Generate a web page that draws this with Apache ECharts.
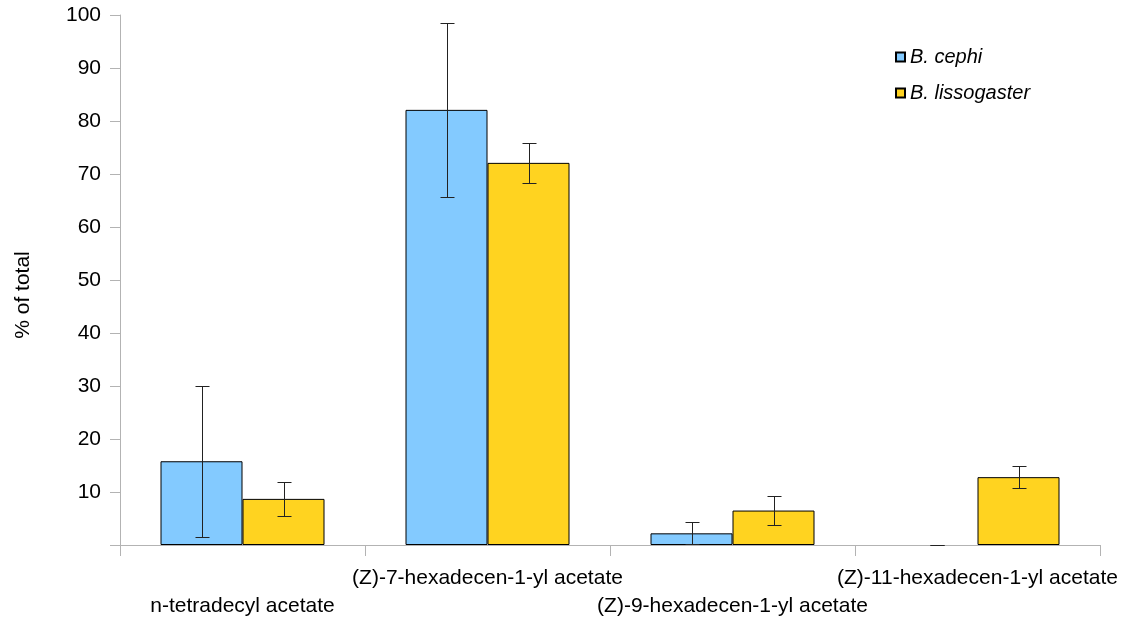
<!DOCTYPE html>
<html>
<head>
<meta charset="utf-8">
<script src="https://cdn.jsdelivr.net/npm/echarts@6/dist/echarts.min.js"></script>
<style>
html,body{margin:0;padding:0;background:#fff;}
#chart{width:1142px;height:622px;}
</style>
</head>
<body>
<div id="chart"></div>
<script>
const categories = ['n-tetradecyl acetate', '(Z)-7-hexadecen-1-yl acetate', '(Z)-9-hexadecen-1-yl acetate', '(Z)-11-hexadecen-1-yl acetate'];
const seriesNames = ['B. cephi', 'B. lissogaster'];
const cephi = [15.8, 82.1, 2.2, 0];
const cephiErr = [14.2, 16.4, 2.1, 0];
const lissogaster = [8.7, 72.1, 6.5, 12.8];
const lissogasterErr = [3.2, 3.8, 2.7, 2.1];

const FONT = "'Liberation Sans', Arial, sans-serif";
const BAR_W = 82;
const colors = ['#83caff', '#ffd320'];

function barData(vals) {
  return vals.map(v => v === 0 ? { value: v, itemStyle: { borderWidth: 0 } } : v);
}
function errData(vals, errs) {
  return vals.map((v, i) => [i, v - errs[i], v + errs[i]]);
}
function errRender(offsetSign) {
  return function (params, api) {
    const i = api.value(0);
    const lo = api.coord([i, api.value(1)]);
    const hi = api.coord([i, api.value(2)]);
    const x = Math.round(lo[0] + offsetSign * BAR_W / 2) + 0.5;
    const yl = Math.round(lo[1]) + 0.5, yh = Math.round(hi[1]) + 0.5;
    const cw = 7;
    const st = { stroke: '#222', lineWidth: 1 };
    return {
      type: 'group',
      children: [
        { type: 'line', shape: { x1: x, y1: yh, x2: x, y2: yl }, style: st },
        { type: 'line', shape: { x1: x - cw, y1: yh, x2: x + cw, y2: yh }, style: st },
        { type: 'line', shape: { x1: x - cw, y1: yl, x2: x + cw, y2: yl }, style: st }
      ]
    };
  };
}

const chart = echarts.init(document.getElementById('chart'));
chart.setOption({
  animation: false,
  textStyle: { fontFamily: FONT, color: '#000' },
  grid: { left: 120, right: 42, top: 15, bottom: 77, containLabel: false, outerBoundsMode: 'none' },
  legend: {
    orient: 'vertical',
    left: 890,
    top: 40,
    itemWidth: 9,
    itemHeight: 9,
    itemGap: 12,
    icon: 'rect',
    data: seriesNames,
    textStyle: { fontFamily: FONT, fontStyle: 'italic', fontSize: 20, color: '#000', lineHeight: 24 }
  },
  xAxis: {
    type: 'category',
    data: categories,
    boundaryGap: true,
    axisLine: { show: true, lineStyle: { color: '#b3b3b3', width: 1 } },
    axisTick: { show: true, length: 11, alignWithLabel: false, interval: 0, lineStyle: { color: '#b3b3b3' } },
    axisLabel: {
      interval: 0,
      hideOverlap: false,
      margin: 19,
      fontSize: 21,
      lineHeight: 28,
      color: '#000',
      fontFamily: FONT,
      formatter: function (v, idx) { return idx % 2 === 0 ? '\n' + v : v; }
    }
  },
  yAxis: {
    type: 'value',
    min: 0,
    max: 100,
    interval: 10,
    name: '% of total',
    nameLocation: 'middle',
    nameGap: 86,
    nameRotate: 90,
    nameTextStyle: { fontSize: 21, color: '#000', fontFamily: FONT, padding: [0, 30, 0, 0] },
    axisLine: { show: true, lineStyle: { color: '#b3b3b3', width: 1 } },
    axisTick: { show: true, length: 10, lineStyle: { color: '#b3b3b3' } },
    splitLine: { show: false },
    axisLabel: {
      margin: 19,
      fontSize: 21,
      color: '#000',
      fontFamily: FONT,
      formatter: function (v) { return v === 0 ? '' : String(v); }
    }
  },
  series: [
    {
      name: seriesNames[0], type: 'bar', data: barData(cephi), barWidth: BAR_W, barGap: '0%',
      itemStyle: { color: colors[0], borderColor: '#000', borderWidth: 1 }
    },
    {
      name: seriesNames[1], type: 'bar', data: barData(lissogaster), barWidth: BAR_W, barGap: '0%',
      itemStyle: { color: colors[1], borderColor: '#000', borderWidth: 1 }
    },
    {
      type: 'custom', name: 'err1', data: errData(cephi, cephiErr), renderItem: errRender(-1),
      encode: { x: 0, y: [1, 2] }, z: 10, silent: true
    },
    {
      type: 'custom', name: 'err2', data: errData(lissogaster, lissogasterErr), renderItem: errRender(1),
      encode: { x: 0, y: [1, 2] }, z: 10, silent: true
    }
  ]
});
</script>
</body>
</html>
